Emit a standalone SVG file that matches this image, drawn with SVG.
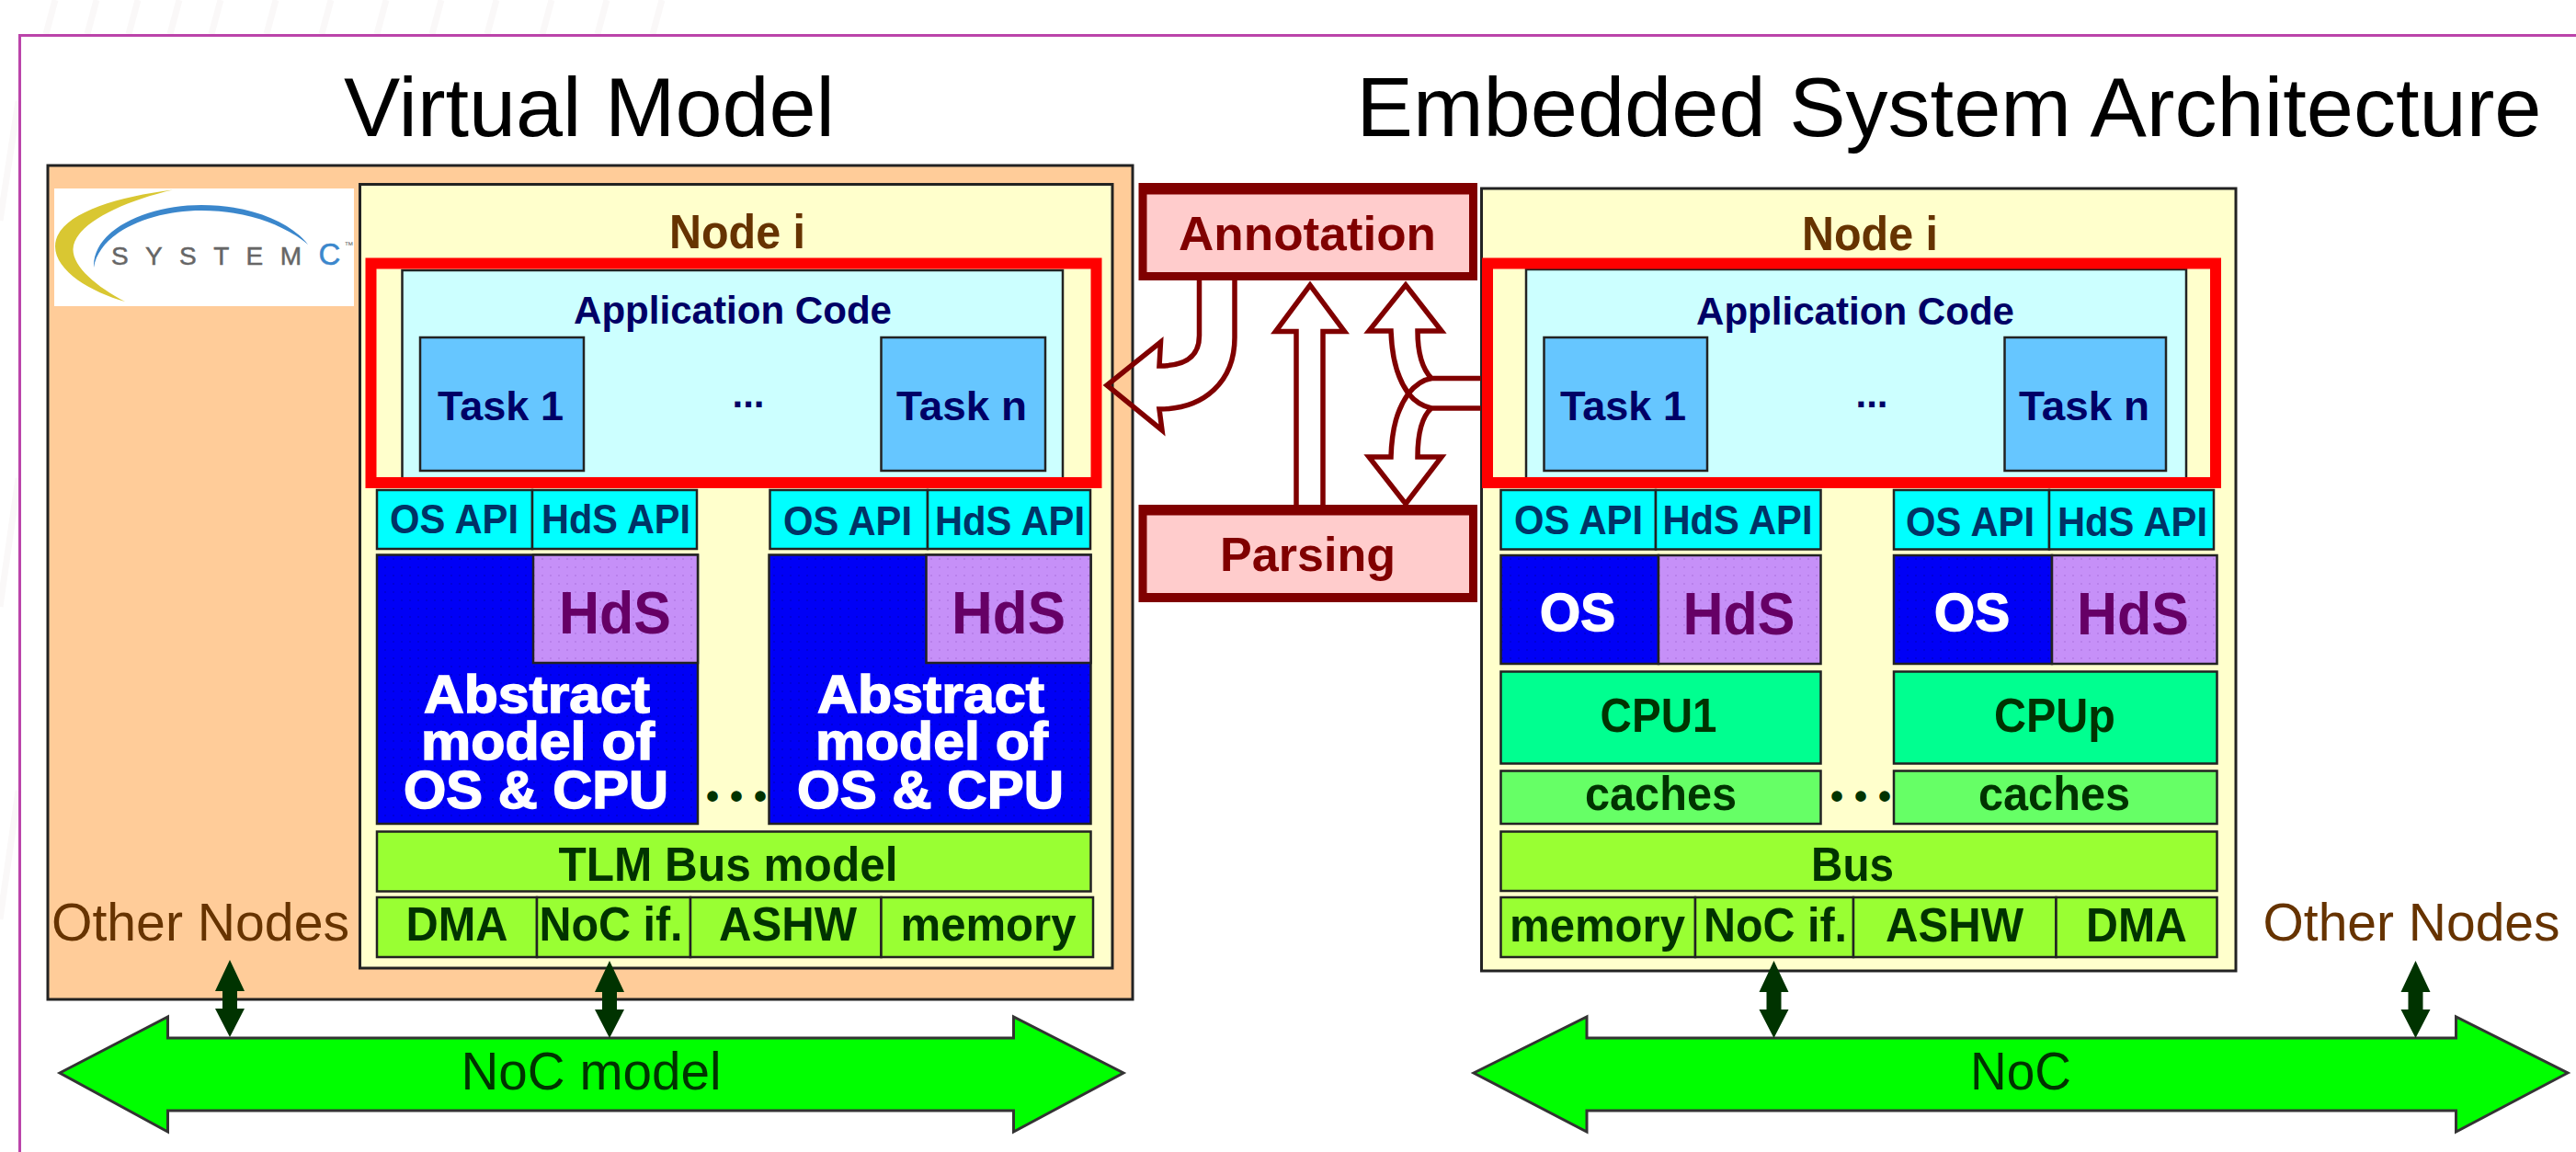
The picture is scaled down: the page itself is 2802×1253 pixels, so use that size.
<svg xmlns="http://www.w3.org/2000/svg" width="2802" height="1253" viewBox="0 0 2802 1253">
<style>
text{font-family:"Liberation Sans",Arial,sans-serif;text-anchor:middle}
.b{stroke:#222;stroke-width:3}
.thin{stroke:#222;stroke-width:2.5}
.peach{fill:#FFCC99}.yellow{fill:#FFFFCC}.app{fill:#CCFFFF}.task{fill:#66C6FF}
.api{fill:#00FFFF}.blue{fill:url(#bluedots)}.purple{fill:url(#purpledots)}
.cpu{fill:#00FF90}.cache{fill:#66FF66}.bus{fill:#99FF33}.noc{fill:#00FF00;stroke:#333;stroke-width:3}
.red{fill:none;stroke:#FF0000;stroke-width:12}
.title{font-size:91.5px;fill:#000}
.nodei{font-size:51.5px;font-weight:bold;fill:#663300}
.appt{font-size:42px;font-weight:bold;fill:#000066}
.taskt{font-size:45px;font-weight:bold;fill:#000066}
.apit{font-size:44px;font-weight:bold;fill:#003366}
.hds{font-size:64px;font-weight:bold;fill:#660066}
.white{font-size:58px;font-weight:bold;fill:#fff;stroke:#fff;stroke-width:1.5}
.gt{font-size:52px;font-weight:bold;fill:#003300}
.other{font-size:58px;fill:#663300}
.noct{font-size:58px;fill:#003300}
.pt{font-size:52px;font-weight:bold;fill:#800000}
.dots{font-size:40px;font-weight:bold;fill:#003300;letter-spacing:12px}
.fat{fill:none;stroke:#800000;stroke-width:5.5;stroke-linejoin:miter}
.dbl{fill:#003300}
</style>
<defs>
<pattern id="bluedots" width="9" height="9" patternUnits="userSpaceOnUse"><rect width="9" height="9" fill="#0000F6"/><rect x="4" y="4" width="2" height="2" fill="#0000D8"/></pattern>
<pattern id="purpledots" width="9" height="9" patternUnits="userSpaceOnUse"><rect width="9" height="9" fill="#C690F8"/><rect x="4" y="4" width="2" height="2" fill="#B880EA"/></pattern>
<path id="dblarrow" d="M0,0 L16,34 L8,34 L8,53 L16,53 L0,84 L-16,53 L-8,53 L-8,34 L-16,34Z"/>
</defs>
<rect width="2802" height="1253" fill="#fff"/>
<path d="M60,0 L50,37 M105,0 L95,37 M150,0 L140,37 M195,0 L185,37 M240,0 L230,37 M300,0 L290,37 M360,0 L350,37 M420,0 L410,37 M480,0 L470,37 M540,0 L530,37 M600,0 L590,37 M660,0 L650,37 M720,0 L710,37 M20,110 L0,240 M20,520 L0,660 M20,860 L0,1000" fill="none" stroke="#FAF8F8" stroke-width="7"/>
<path d="M2802,38.5 H21.5 V1253" fill="none" stroke="#BB44AA" stroke-width="3"/>

<g id="titles">
<text class="title" x="641" y="147.5" textLength="534" lengthAdjust="spacingAndGlyphs">Virtual Model</text>
<text class="title" x="2120" y="148" textLength="1289" lengthAdjust="spacingAndGlyphs">Embedded System Architecture</text>
</g>

<g id="virtual-model"><rect class="peach b" x="52" y="180" width="1180" height="907"/></g>

<g id="systemc-logo">
<rect x="59" y="205" width="326" height="128" fill="#fff"/>
<path d="M188,206.5 C120,215 60,235 60,268 C60,295 100,318 136,328 C105,312 79,290 79.5,271 C80,245 130,220 188,206.5Z" fill="#D9C732"/>
<path d="M102,291 C100,250 160,223 219,223 C270,223 315,240 335,266 C310,245 270,229 219,229 C165,229 108,252 102,291Z" fill="#3B87CC"/>
<text x="224.5" y="287.5" font-size="28" fill="#666" stroke="#666" stroke-width="0.5" textLength="207">SYSTEM</text>
<text x="358.5" y="287.5" font-size="33" fill="#3B87CC" stroke="#3B87CC" stroke-width="0.5">C</text>
<text x="379.5" y="270" font-size="10" fill="#666">™</text>
</g>

<g id="node-left">
<rect class="yellow b" x="391.5" y="200.5" width="818.5" height="852.5"/>
<text class="nodei" x="802" y="270" textLength="148" lengthAdjust="spacingAndGlyphs">Node i</text>
<rect class="app thin" x="437.5" y="294" width="718.5" height="227"/>
<text class="appt" x="797" y="352" textLength="346" lengthAdjust="spacingAndGlyphs">Application Code</text>
<rect class="task thin" x="457" y="367" width="178" height="145"/>
<text class="taskt" x="544.5" y="457" textLength="137" lengthAdjust="spacingAndGlyphs">Task 1</text>
<text class="appt" x="814" y="443">...</text>
<rect class="task thin" x="958.5" y="367" width="178.5" height="145"/>
<text class="taskt" x="1046" y="457" textLength="142" lengthAdjust="spacingAndGlyphs">Task n</text>
<rect class="red" x="403.5" y="286.5" width="789" height="238.5"/>

<rect class="api thin" x="410" y="533" width="169" height="64"/>
<rect class="api thin" x="579" y="533" width="179" height="64"/>
<text class="apit" x="494" y="580" textLength="140" lengthAdjust="spacingAndGlyphs">OS API</text>
<text class="apit" x="670" y="580" textLength="162" lengthAdjust="spacingAndGlyphs">HdS API</text>
<rect class="api thin" x="837.5" y="533" width="171.5" height="64"/>
<rect class="api thin" x="1009" y="533" width="177" height="64"/>
<text class="apit" x="922" y="582" textLength="140" lengthAdjust="spacingAndGlyphs">OS API</text>
<text class="apit" x="1098.5" y="582" textLength="163" lengthAdjust="spacingAndGlyphs">HdS API</text>

<rect class="blue thin" x="410" y="603.5" width="349" height="292.5"/>
<rect class="purple thin" x="580" y="603.5" width="179" height="117.5"/>
<text class="hds" x="669" y="689" textLength="122" lengthAdjust="spacingAndGlyphs">HdS</text>
<text class="white"><tspan x="584" y="775" textLength="246" lengthAdjust="spacingAndGlyphs">Abstract</tspan><tspan x="585" y="826" textLength="254" lengthAdjust="spacingAndGlyphs">model of</tspan><tspan x="583" y="878.5" textLength="288" lengthAdjust="spacingAndGlyphs">OS &amp; CPU</tspan></text>

<rect class="blue thin" x="836.5" y="603.5" width="350" height="292.5"/>
<rect class="purple thin" x="1007.5" y="603.5" width="179" height="117.5"/>
<text class="hds" x="1097" y="689" textLength="124" lengthAdjust="spacingAndGlyphs">HdS</text>
<text class="white"><tspan x="1012.5" y="775" textLength="247" lengthAdjust="spacingAndGlyphs">Abstract</tspan><tspan x="1013.5" y="826" textLength="253" lengthAdjust="spacingAndGlyphs">model of</tspan><tspan x="1012" y="878.5" textLength="290" lengthAdjust="spacingAndGlyphs">OS &amp; CPU</tspan></text>
<text class="dots" x="807" y="880">•••</text>

<rect class="bus thin" x="410" y="904.5" width="776.5" height="65"/>
<text class="gt" x="792" y="958" textLength="369" lengthAdjust="spacingAndGlyphs">TLM Bus model</text>
<rect class="bus thin" x="410" y="976" width="174" height="65"/>
<rect class="bus thin" x="584" y="976" width="167" height="65"/>
<rect class="bus thin" x="751" y="976" width="207.5" height="65"/>
<rect class="bus thin" x="958.5" y="976" width="230.5" height="65"/>
<text class="gt" x="497" y="1023" textLength="111" lengthAdjust="spacingAndGlyphs">DMA</text>
<text class="gt" x="664.5" y="1023" textLength="156" lengthAdjust="spacingAndGlyphs">NoC if.</text>
<text class="gt" x="857" y="1023" textLength="150" lengthAdjust="spacingAndGlyphs">ASHW</text>
<text class="gt" x="1075" y="1023" textLength="191" lengthAdjust="spacingAndGlyphs">memory</text>
</g>

<g id="node-right">
<rect class="yellow b" x="1611.5" y="205" width="820.5" height="851"/>
<text class="nodei" x="2034" y="272" textLength="148" lengthAdjust="spacingAndGlyphs">Node i</text>
<rect class="app thin" x="1660" y="293" width="718" height="228"/>
<text class="appt" x="2018" y="352.5" textLength="346" lengthAdjust="spacingAndGlyphs">Application Code</text>
<rect class="task thin" x="1679.5" y="367" width="177.5" height="145"/>
<text class="taskt" x="1765.5" y="457" textLength="137" lengthAdjust="spacingAndGlyphs">Task 1</text>
<text class="appt" x="2036" y="443">...</text>
<rect class="task thin" x="2180.5" y="367" width="175.5" height="145"/>
<text class="taskt" x="2267" y="457" textLength="142" lengthAdjust="spacingAndGlyphs">Task n</text>
<rect class="red" x="1618" y="286.5" width="792" height="238.5"/>

<rect class="api thin" x="1632.5" y="533" width="168.5" height="64.5"/>
<rect class="api thin" x="1801" y="533" width="179.5" height="64.5"/>
<text class="apit" x="1717" y="581" textLength="140" lengthAdjust="spacingAndGlyphs">OS API</text>
<text class="apit" x="1890" y="581" textLength="163" lengthAdjust="spacingAndGlyphs">HdS API</text>
<rect class="api thin" x="2060" y="533" width="169" height="64.5"/>
<rect class="api thin" x="2229" y="533" width="179" height="64.5"/>
<text class="apit" x="2143" y="583" textLength="140" lengthAdjust="spacingAndGlyphs">OS API</text>
<text class="apit" x="2319.5" y="583" textLength="163" lengthAdjust="spacingAndGlyphs">HdS API</text>

<rect class="blue thin" x="1632.5" y="604" width="171.5" height="118"/>
<rect class="purple thin" x="1804" y="604" width="176.5" height="118"/>
<text class="white" x="1716" y="686" textLength="82" lengthAdjust="spacingAndGlyphs">OS</text>
<text class="hds" x="1891.5" y="689.5" textLength="122" lengthAdjust="spacingAndGlyphs">HdS</text>
<rect class="blue thin" x="2060" y="604" width="172" height="118"/>
<rect class="purple thin" x="2232" y="604" width="179.5" height="118"/>
<text class="white" x="2145" y="686" textLength="82" lengthAdjust="spacingAndGlyphs">OS</text>
<text class="hds" x="2320" y="689.5" textLength="122" lengthAdjust="spacingAndGlyphs">HdS</text>

<rect class="cpu thin" x="1632.5" y="730.5" width="348" height="100"/>
<text class="gt" x="1804" y="795.5" textLength="127" lengthAdjust="spacingAndGlyphs">CPU1</text>
<rect class="cpu thin" x="2060" y="730.5" width="351.5" height="100"/>
<text class="gt" x="2235" y="795.5" textLength="132" lengthAdjust="spacingAndGlyphs">CPUp</text>
<rect class="cache thin" x="1632.5" y="838.5" width="348" height="57.5"/>
<text class="gt" x="1806.5" y="880.5" textLength="165" lengthAdjust="spacingAndGlyphs">caches</text>
<rect class="cache thin" x="2060" y="838.5" width="351.5" height="57.5"/>
<text class="gt" x="2234.5" y="880.5" textLength="165" lengthAdjust="spacingAndGlyphs">caches</text>
<text class="dots" x="2030" y="880">•••</text>

<rect class="bus thin" x="1632.5" y="904.5" width="779" height="64.5"/>
<text class="gt" x="2015" y="957.5" textLength="90" lengthAdjust="spacingAndGlyphs">Bus</text>
<rect class="bus thin" x="1632.5" y="976" width="211.5" height="65"/>
<rect class="bus thin" x="1844" y="976" width="172" height="65"/>
<rect class="bus thin" x="2016" y="976" width="220.5" height="65"/>
<rect class="bus thin" x="2236.5" y="976" width="175" height="65"/>
<text class="gt" x="1737.5" y="1023.5" textLength="191" lengthAdjust="spacingAndGlyphs">memory</text>
<text class="gt" x="1931" y="1023.5" textLength="156" lengthAdjust="spacingAndGlyphs">NoC if.</text>
<text class="gt" x="2126" y="1023.5" textLength="150" lengthAdjust="spacingAndGlyphs">ASHW</text>
<text class="gt" x="2324" y="1023.5" textLength="110" lengthAdjust="spacingAndGlyphs">DMA</text>
</g>

<g id="other-nodes">
<text class="other" x="218" y="1023" textLength="324" lengthAdjust="spacingAndGlyphs">Other Nodes</text>
<text class="other" x="2623" y="1023" textLength="323" lengthAdjust="spacingAndGlyphs">Other Nodes</text>
</g>

<g id="noc-model">
<path class="noc" d="M65,1167 L182.5,1106 V1129 H1102.5 V1106 L1222,1167 L1102.5,1231 V1208 H182.5 V1231Z"/>
<text class="noct" x="643" y="1185" textLength="283" lengthAdjust="spacingAndGlyphs">NoC model</text>
</g>
<g id="noc">
<path class="noc" d="M1603,1167 L1726,1106 V1129 H2671.5 V1106 L2793,1167 L2671.5,1231 V1208 H1726 V1231Z"/>
<text class="noct" x="2198" y="1185" textLength="110" lengthAdjust="spacingAndGlyphs">NoC</text>
</g>

<g id="annotation">
<rect x="1238.5" y="199" width="368.5" height="106" fill="#800000"/>
<rect x="1247.5" y="211.5" width="350.5" height="84.5" fill="#FFCCCC"/>
<text class="pt" x="1422" y="271.5" textLength="280" lengthAdjust="spacingAndGlyphs">Annotation</text>
</g>
<g id="parsing">
<rect x="1238.5" y="549" width="368.5" height="106" fill="#800000"/>
<rect x="1247.5" y="560.5" width="350.5" height="84.5" fill="#FFCCCC"/>
<text class="pt" x="1422.5" y="620.5" textLength="191" lengthAdjust="spacingAndGlyphs">Parsing</text>
</g>

<g id="connectors">
<use href="#dblarrow" class="dbl" x="250" y="1044"/>
<use href="#dblarrow" class="dbl" x="663" y="1045"/>
<use href="#dblarrow" class="dbl" x="1929.5" y="1045"/>
<use href="#dblarrow" class="dbl" x="2627.5" y="1045"/>
<path class="fat" d="M1343,305 V367 C1343,415 1310,445 1261,445 L1264,468 L1204,419 L1262.5,372 L1261,398 C1287,398 1304.5,390 1304.5,365 V305"/>
<path class="fat" d="M1410,549 V360.5 H1387.5 L1425,310 L1462.5,360.5 H1439 V549"/>
<path class="fat" d="M1611,411.5 H1557 C1548,402 1542,385 1542,360 H1568 L1529,310 L1489,360 H1513 C1514,390 1520,412 1532,428 C1520,445 1514,465 1513,497 H1489 L1529,548 L1568,497 H1542 C1542,470 1548,452 1557,444 H1611"/>
<path class="fat" d="M1557,411.5 C1548,413 1540,418 1532,428 C1540,438 1548,442 1557,444"/>
</g>
</svg>
